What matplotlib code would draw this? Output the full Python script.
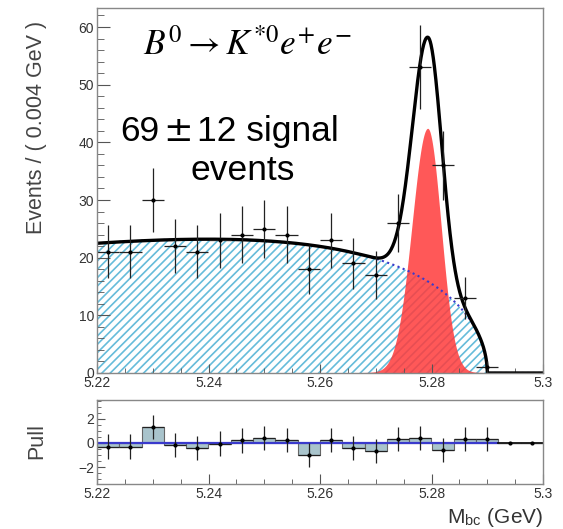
import numpy as np
import matplotlib
matplotlib.use('Agg')
import matplotlib.pyplot as plt
from matplotlib.ticker import MultipleLocator

# binned data, 0.004 GeV bins
bin_lo = 5.22
bin_w = 0.004
counts = [21, 21, 30, 22, 21, 23, 24, 25, 24, 18, 23, 19, 17, 26, 53, 36, 13, 1, 0, 0]
pulls = [-0.3, -0.3, 1.3, -0.2, -0.4, -0.05, 0.2, 0.4, 0.25, -1.0,
         0.25, -0.4, -0.7, 0.35, 0.4, -0.6, 0.35, 0.3, 0.0, 0.0]

# fit model parameters
m0 = 5.29          # ARGUS endpoint
argus_c = -26.0    # ARGUS shape
bg_at_lo = 22.5    # background height at 5.22 (events / bin)
n_sig = 69
sig_mean = 5.2794
sig_left = 0.0028
sig_right = 0.0024


def argus(m):
    t = np.clip(1 - (m / m0) ** 2, 0, None)
    return m * np.sqrt(t) * np.exp(argus_c * t)


def signal(m):
    h = n_sig * bin_w / (np.sqrt(2 * np.pi) * 0.5 * (sig_left + sig_right))
    s = np.where(m < sig_mean, sig_left, sig_right)
    return h * np.exp(-0.5 * ((m - sig_mean) / s) ** 2)


plt.rcParams['font.family'] = ['Liberation Sans', 'DejaVu Sans']
plt.rcParams['mathtext.fontset'] = 'stix'
plt.rcParams['hatch.linewidth'] = 1.2

W, H = 563, 529
fig = plt.figure(figsize=(W / 100, H / 100), dpi=100)
ax = fig.add_axes([97 / W, 1 - 373 / H, 446 / W, 365 / H])
ax2 = fig.add_axes([97 / W, 1 - 484 / H, 446 / W, 84 / H])

centers = bin_lo + bin_w * (np.arange(len(counts)) + 0.5)
counts = np.array(counts)
m = np.linspace(5.22, 5.3, 1200)
bg = bg_at_lo * argus(m) / argus(np.array(5.22))
sg = signal(m)
tot = bg + sg

# main panel
ax.fill_between(m, 0, bg, facecolor='white', edgecolor='#66bcda', hatch='////', linewidth=0)
ax.fill_between(m, 0, sg, facecolor='#ff3b3b', alpha=0.85, linewidth=0)
ax.plot(m, bg, color='#3a3acc', ls=':', lw=1.5)
ax.plot(m, tot, color='black', lw=2.4)
nz = counts > 0
ax.errorbar(centers[nz], counts[nz], xerr=bin_w / 2, yerr=np.sqrt(counts[nz]),
            fmt='o', ms=2, color='black', ecolor='#222222', elinewidth=0.9, capsize=0)

ax.set_xlim(5.22, 5.3)
ax.set_ylim(0, 63.3)
ax.set_ylabel('Events / ( 0.004 GeV )', fontsize=15.5, color='#444444')
ax.yaxis.set_label_coords(-0.112, 0.674)
ax.xaxis.set_minor_locator(MultipleLocator(0.005))
ax.yaxis.set_major_locator(MultipleLocator(10))
ax.yaxis.set_minor_locator(MultipleLocator(2))
ax.set_xticks([5.22, 5.24, 5.26, 5.28, 5.3])
ax.set_xticklabels(['5.22', '5.24', '5.26', '5.28', '5.3'])
ax.tick_params(axis='x', which='major', direction='in', length=6.5, pad=2, labelsize=10, colors='#555555', labelcolor='#333333')
ax.tick_params(axis='x', which='minor', direction='in', length=3.5, colors='#555555')
ax.tick_params(axis='y', which='major', direction='in', length=9, pad=2, labelsize=10, colors='#555555', labelcolor='#333333')
ax.tick_params(axis='y', which='minor', direction='in', length=5, colors='#555555')

# pull panel
pulls = np.array(pulls)
ax2.bar(centers, pulls, width=bin_w, facecolor='#a9c4cc', edgecolor='#666666', linewidth=0.8)
ax2.plot([5.22, m0 + 0.002], [0, 0], color='#3a3acc', lw=1.6)
ax2.plot([m0 + 0.002, 5.3], [0, 0], color='black', lw=1.2)
ax2.errorbar(centers[:18], pulls[:18], xerr=bin_w / 2, yerr=1.0,
             fmt='o', ms=2, color='black', ecolor='#222222', elinewidth=0.9, capsize=0)
ax2.errorbar(centers[18:], pulls[18:], xerr=bin_w / 2,
             fmt='o', ms=2, color='black', ecolor='#222222', elinewidth=0.9, capsize=0)
ax2.set_xlim(5.22, 5.3)
ax2.set_ylim(-3.4, 3.55)
ax2.set_ylabel('Pull', fontsize=15.5, color='#444444')
ax2.yaxis.set_label_coords(-0.112, 0.506)
ax2.set_xticks([5.22, 5.24, 5.26, 5.28, 5.3])
ax2.set_xticklabels(['5.22', '5.24', '5.26', '5.28', '5.3'])
ax2.xaxis.set_minor_locator(MultipleLocator(0.005))
ax2.set_yticks([-2, 0, 2])
ax2.yaxis.set_minor_locator(MultipleLocator(0.5))
ax2.tick_params(axis='x', which='major', direction='in', length=7, pad=2, labelsize=10, colors='#555555', labelcolor='#333333')
ax2.tick_params(axis='x', which='minor', direction='in', length=3.5, colors='#555555')
ax2.tick_params(axis='y', which='major', direction='in', length=5.5, pad=2, labelsize=10, colors='#555555', labelcolor='#333333')
ax2.tick_params(axis='y', which='minor', direction='in', length=3, colors='#555555')

for a in (ax, ax2):
    for sp in a.spines.values():
        sp.set_color('#888888')
        sp.set_linewidth(1.0)

fig.text(543 / W, 1 - 523 / H, r'M$_{\mathregular{bc}}$ (GeV)', fontsize=15, color='#333333',
         ha='right', va='baseline')

# annotations
fig.text(143 / W, 1 - 55 / H, r'$B^0\rightarrow K^{*0}e^{+}e^{-}$', fontsize=25.5,
         ha='left', va='baseline')
fig.text(120 / W, 1 - 141 / H, '69', fontsize=25.5, ha='left', va='baseline')
fig.text(178 / W, 1 - 141 / H, '±', fontsize=25.5, family='DejaVu Sans', ha='center', va='baseline')
fig.text(197 / W, 1 - 141 / H, '12 signal', fontsize=25.5, ha='left', va='baseline')
fig.text(243 / W, 1 - 180 / H, 'events', fontsize=25.5, ha='center', va='baseline')

fig.savefig('out.png', dpi=100)
